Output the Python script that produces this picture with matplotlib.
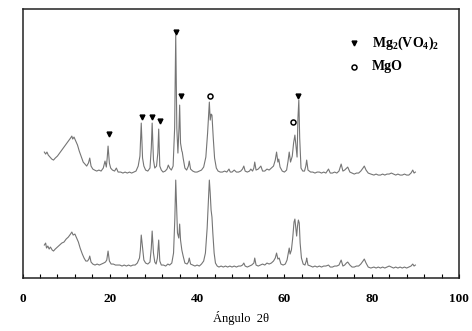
import matplotlib
matplotlib.use("Agg")
import matplotlib.pyplot as plt
from matplotlib.ticker import MultipleLocator, FuncFormatter

# ---- data (2theta, intensity in arbitrary units) ----
upper_angle = [5.0, 5.3, 5.6, 5.9, 6.3, 6.7, 7.1, 7.5, 8.0, 8.5, 9.0, 9.5, 10.0, 10.5, 11.0, 11.3, 11.5, 11.8,
               12.2, 12.6, 13.0, 13.5, 13.9, 14.3, 14.7, 15.1, 15.4, 15.7, 16.1, 16.5, 17.0, 17.5, 18.0, 18.5,
               18.9, 19.2, 19.4, 19.6, 19.9, 20.2, 20.6, 21.1, 21.5, 21.9, 22.5, 23.0, 23.5, 24.0, 24.5, 25.0,
               25.5, 26.0, 26.5, 26.9, 27.2, 27.5, 27.8, 28.2, 28.7, 29.2, 29.5, 29.7, 30.0, 30.3, 30.7, 31.0,
               31.2, 31.45, 31.8, 32.2, 32.7, 33.1, 33.4, 33.7, 34.1, 34.5, 34.85, 35.1, 35.35, 35.6, 35.85,
               36.0, 36.2, 36.5, 36.6, 36.8, 37.2, 37.6, 38.0, 38.2, 38.5, 39.0, 39.5, 40.0, 40.5, 41.0, 41.5,
               42.0, 42.4, 42.8, 43.0, 43.2, 43.4, 43.7, 44.0, 44.4, 44.8, 45.3, 45.8, 46.3, 46.8, 47.3, 47.6,
               48.0, 48.5, 49.0, 49.5, 50.0, 50.4, 50.7, 51.0, 51.5, 52.0, 52.3, 52.7, 53.0, 53.2, 53.5, 54.0,
               54.6, 55.0, 55.5, 56.0, 56.5, 57.0, 57.5, 57.9, 58.2, 58.5, 58.7, 59.0, 59.5, 60.0, 60.5, 60.8,
               61.1, 61.4, 61.8, 62.1, 62.4, 62.7, 62.9, 63.1, 63.3, 63.5, 63.8, 64.2, 64.6, 64.9, 65.1, 65.4,
               66.0, 66.5, 67.0, 67.5, 68.0, 68.5, 69.0, 69.5, 70.1, 70.5, 71.0, 71.5, 72.0, 72.5, 73.0, 73.4,
               73.8, 74.5, 75.0, 75.5, 76.0, 76.5, 77.0, 77.5, 78.0, 78.3, 78.7, 79.2, 79.8, 80.5, 81.0, 81.5,
               82.0, 82.5, 83.0, 83.5, 84.0, 84.5, 85.0, 85.5, 86.0, 86.5, 87.0, 87.5, 88.0, 88.5, 89.0, 89.4,
               89.7, 90.0]
upper_intensity = [126, 124, 126, 123, 121, 119, 118, 120, 122, 125, 128, 131, 134, 137, 140, 142, 139, 141,
                   137, 133, 127, 121, 116, 114, 112, 115, 120, 112, 109, 108, 107, 108, 107, 110,
                   117, 111, 120, 132, 115, 110, 108, 107, 110, 106, 106, 105, 106, 105, 106, 105,
                   106, 107, 112, 122, 155, 120, 112, 108, 107, 110, 130, 155, 118, 110, 112, 125,
                   149, 112, 108, 106, 107, 109, 113, 110, 108, 112, 150, 243, 150, 125, 150,
                   173, 135, 127, 126, 120, 110, 108, 112, 117, 109, 107, 106, 106, 107, 108, 111,
                   121, 145, 176, 158, 164, 163, 140, 120, 110, 107, 106, 106, 107, 106, 109, 106,
                   106, 108, 106, 106, 107, 109, 112, 107, 106, 107, 109, 107, 110, 116, 108, 109,
                   112, 107, 107, 109, 108, 110, 112, 118, 126, 116, 119, 111, 107, 106, 108, 116,
                   126, 116, 122, 135, 143, 130, 121, 160, 178, 140, 110, 107, 107, 112, 118, 108,
                   106, 106, 105, 106, 106, 105, 106, 105, 109, 105, 105, 106, 105, 107, 114, 107,
                   108, 111, 106, 105, 104, 105, 105, 107, 110, 112, 108, 105, 104, 103, 104, 103,
                   103, 104, 103, 104, 104, 105, 104, 103, 104, 103, 103, 104, 103, 103, 105, 108,
                   105, 106]

lower_angle = [5.0, 5.3, 5.5, 5.8, 6.1, 6.4, 6.8, 7.1, 7.5, 8.0, 8.5, 9.0, 9.5, 10.0, 10.5, 11.0, 11.3, 11.6,
               12.0, 12.4, 12.8, 13.2, 13.7, 14.1, 14.5, 14.9, 15.2, 15.4, 15.7, 16.1, 16.6, 17.1, 17.6, 18.1,
               18.6, 19.0, 19.3, 19.6, 19.9, 20.3, 20.8, 21.3, 21.8, 22.3, 22.8, 23.3, 23.8, 24.3, 24.8, 25.3,
               25.8, 26.3, 26.8, 27.0, 27.2, 27.5, 27.8, 28.2, 28.7, 29.2, 29.5, 29.7, 30.0, 30.3, 30.6, 30.9,
               31.2, 31.45, 31.8, 32.3, 32.8, 33.3, 33.7, 34.2, 34.6, 34.9, 35.1, 35.3, 35.5, 35.8, 36.0, 36.2,
               36.5, 36.8, 37.2, 37.7, 38.0, 38.2, 38.5, 39.0, 39.5, 40.0, 40.5, 41.0, 41.5, 41.9, 42.3, 42.6,
               42.8, 43.0, 43.2, 43.4, 43.6, 43.9, 44.2, 44.6, 45.0, 45.5, 46.0, 46.5, 47.0, 47.5, 48.0, 48.5,
               49.0, 49.5, 50.0, 50.4, 50.7, 51.0, 51.5, 52.0, 52.5, 53.0, 53.2, 53.5, 54.0, 54.5, 55.0, 55.5,
               56.0, 56.5, 57.0, 57.5, 57.9, 58.2, 58.5, 58.8, 59.2, 59.7, 60.2, 60.6, 60.9, 61.1, 61.3, 61.6,
               61.9, 62.2, 62.4, 62.6, 62.8, 63.0, 63.2, 63.4, 63.6, 63.9, 64.3, 64.7, 65.0, 65.1, 65.4, 66.0,
               66.5, 67.0, 67.5, 68.0, 68.5, 69.0, 69.5, 70.1, 70.5, 71.0, 71.5, 72.0, 72.5, 73.0, 73.4, 73.8,
               74.2, 74.5, 75.0, 75.5, 76.0, 76.5, 77.0, 77.5, 78.0, 78.3, 78.7, 79.2, 79.8, 80.5, 81.0, 81.5,
               82.0, 82.5, 83.0, 83.5, 84.0, 84.5, 85.0, 85.5, 86.0, 86.5, 87.0, 87.5, 88.0, 88.5, 89.0, 89.4,
               89.7, 90.0]
lower_intensity = [33, 35, 30, 32, 29, 31, 28, 27, 29, 31, 33, 35, 36, 39, 41, 44, 46, 43,
                   44, 40, 36, 30, 24, 20, 17, 17, 19, 22, 16, 14, 13, 14, 13, 14,
                   15, 16, 18, 27, 17, 14, 14, 13, 13, 13, 12, 13, 12, 13, 12, 13,
                   13, 15, 20, 28, 43, 30, 18, 15, 14, 16, 30, 47, 25, 16, 14, 20,
                   38, 17, 13, 13, 12, 14, 13, 15, 25, 60, 98, 70, 45, 40, 54, 38,
                   28, 22, 15, 14, 16, 20, 14, 13, 12, 13, 12, 14, 17, 25, 50, 80,
                   98, 85, 68, 61, 45, 25, 15, 12, 11, 12, 11, 12, 11, 12, 11, 12,
                   11, 12, 12, 13, 15, 12, 11, 12, 13, 15, 20, 13, 12, 13, 14, 13,
                   15, 14, 15, 17, 20, 25, 19, 20, 14, 13, 14, 18, 25, 30, 24, 28,
                   40, 56, 59, 50, 42, 52, 58, 55, 35, 20, 14, 13, 17, 20, 13, 12,
                   11, 12, 11, 12, 11, 12, 12, 13, 11, 11, 12, 12, 13, 18, 12, 13,
                   15, 16, 13, 11, 11, 12, 12, 14, 17, 19, 15, 11, 10, 11, 10, 11,
                   10, 11, 10, 11, 12, 11, 10, 11, 10, 11, 10, 11, 10, 11, 12, 14,
                   12, 13]

# phase markers
mgv_angle = [19.9, 27.3, 29.7, 31.5, 35.1, 36.2, 63.1]
mgv_height = [143.7, 161.3, 161.3, 157.0, 246.3, 182.3, 182.3]
mgo_angle = [42.9, 62.0]
mgo_height = [181.7, 156.0]

legend_labels = [r"Mg$_\mathbf{2}$(VO$_\mathbf{4}$)$_\mathbf{2}$", "MgO"]

plt.rcParams['font.family'] = ['Liberation Serif', 'DejaVu Serif']
plt.rcParams['mathtext.fontset'] = 'custom'
plt.rcParams['mathtext.rm'] = 'Liberation Serif:bold'
plt.rcParams['mathtext.bf'] = 'Liberation Serif:bold'
plt.rcParams['mathtext.it'] = 'Liberation Serif:bold'

fig = plt.figure(figsize=(4.72, 3.31), dpi=100)
ax = fig.add_axes([0.0477, 0.160, 0.9248, 0.814])

line_color = "#757575"
ax.plot(upper_angle, upper_intensity, color=line_color, lw=0.8)
ax.plot(lower_angle, lower_intensity, color=line_color, lw=0.8)

ax.plot(mgv_angle, mgv_height, ls="none", marker="v", color="black", ms=3.5)
ax.plot(mgo_angle, mgo_height, ls="none", marker="o", mfc="white", mec="black", mew=1.1, ms=3.6)

# legend (manual placement)
ax.plot([75.9], [234.7], ls="none", marker="v", color="black", ms=3.5)
ax.plot([75.9], [211.3], ls="none", marker="o", mfc="white", mec="black", mew=1.1, ms=3.6)
ax.text(80.1, 234.7, legend_labels[0], fontsize=10, fontweight="bold", va="center", ha="left")
ax.text(80.1, 211.3, legend_labels[1], fontsize=10, fontweight="bold", va="center", ha="left")

ax.set_xlim(0, 100)
ax.set_ylim(0, 269.5)
ax.set_yticks([])
ax.xaxis.set_major_locator(MultipleLocator(4))
ax.xaxis.set_major_formatter(FuncFormatter(lambda v, p: f"{int(round(v))}" if round(v) % 20 == 0 else ""))
ax.tick_params(axis="x", direction="in", length=3, width=0.8, pad=11, labelsize=9.5)
for lab in ax.get_xticklabels():
    lab.set_fontweight("bold")
ax.set_xlabel("Ángulo  2θ", fontsize=9, labelpad=4)

for s in ax.spines.values():
    s.set_linewidth(1.1)
    s.set_color("#222222")

fig.savefig("out.png", dpi=100)
